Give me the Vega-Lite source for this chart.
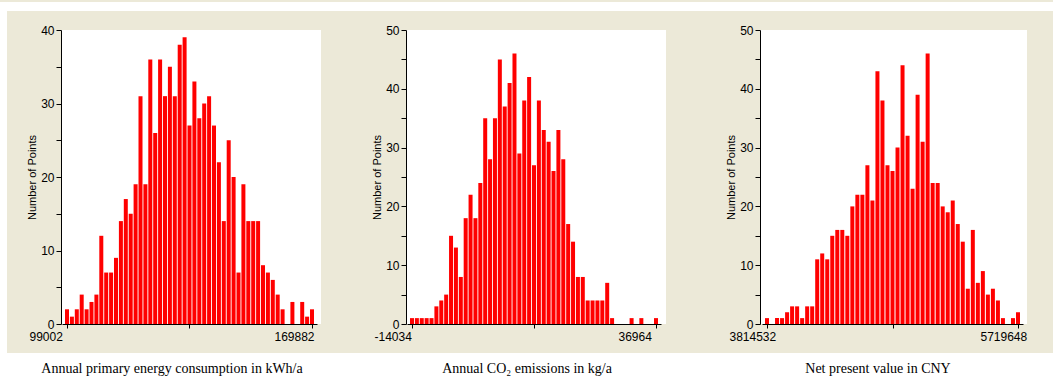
{
  "$schema": "https://vega.github.io/schema/vega-lite/v6.json",
  "padding": 0,
  "background": "#ECE9D8",
  "config": {
    "view": {"stroke": null},
    "axis": {
      "domainColor": "black", "tickColor": "black", "labelColor": "black", "titleColor": "black",
      "labelFont": "Liberation Sans", "titleFont": "Liberation Sans", "labelFontSize": 12,
      "grid": false, "tickSize": 5, "domainWidth": 1, "tickWidth": 1, "labelOverlap": false, "labelFlush": false
    },
    "axisY": {"labelPadding": 2, "titleFontSize": 11, "titleFontWeight": "normal", "titlePadding": 3},
    "axisX": {"labelAlign": "left", "labelOffset": -38, "labelPadding": 3, "tickSize": 4, "labelBaseline": "top"}
  },
  "datasets": {
    "energy": [
      {"value": 99002, "count": 2}, {"value": 100420, "count": 1}, {"value": 101837, "count": 2}, {"value": 103255, "count": 4},
      {"value": 104672, "count": 2}, {"value": 106090, "count": 3}, {"value": 107508, "count": 4}, {"value": 108925, "count": 12},
      {"value": 110343, "count": 7}, {"value": 111760, "count": 7}, {"value": 113178, "count": 9}, {"value": 114596, "count": 14},
      {"value": 116013, "count": 17}, {"value": 117431, "count": 15}, {"value": 118848, "count": 19}, {"value": 120266, "count": 31},
      {"value": 121684, "count": 19}, {"value": 123101, "count": 36}, {"value": 124519, "count": 26}, {"value": 125936, "count": 36},
      {"value": 127354, "count": 31}, {"value": 128772, "count": 35}, {"value": 130189, "count": 31}, {"value": 131607, "count": 38},
      {"value": 133024, "count": 39}, {"value": 134442, "count": 27}, {"value": 135860, "count": 33}, {"value": 137277, "count": 28},
      {"value": 138695, "count": 30}, {"value": 140112, "count": 31}, {"value": 141530, "count": 27}, {"value": 142948, "count": 22},
      {"value": 144365, "count": 14}, {"value": 145783, "count": 25}, {"value": 147200, "count": 20}, {"value": 148618, "count": 7},
      {"value": 150036, "count": 19}, {"value": 151453, "count": 14}, {"value": 152871, "count": 14}, {"value": 154288, "count": 14},
      {"value": 155706, "count": 8}, {"value": 157124, "count": 7}, {"value": 158541, "count": 6}, {"value": 159959, "count": 4},
      {"value": 161376, "count": 2}, {"value": 162794, "count": 0}, {"value": 164212, "count": 3}, {"value": 165629, "count": 0},
      {"value": 167047, "count": 3}, {"value": 168464, "count": 1}, {"value": 169882, "count": 2}
    ],
    "co2": [
      {"value": -14034, "count": 1}, {"value": -13014, "count": 1}, {"value": -11994, "count": 1}, {"value": -10974, "count": 1},
      {"value": -9954, "count": 1}, {"value": -8934, "count": 3}, {"value": -7914, "count": 4}, {"value": -6894, "count": 5},
      {"value": -5874, "count": 15}, {"value": -4854, "count": 13}, {"value": -3834, "count": 8}, {"value": -2814, "count": 18},
      {"value": -1794, "count": 22}, {"value": -775, "count": 18}, {"value": 245, "count": 24}, {"value": 1265, "count": 35},
      {"value": 2285, "count": 28}, {"value": 3305, "count": 35}, {"value": 4325, "count": 45}, {"value": 5345, "count": 37},
      {"value": 6365, "count": 41}, {"value": 7385, "count": 46}, {"value": 8405, "count": 29}, {"value": 9425, "count": 38},
      {"value": 10445, "count": 42}, {"value": 11465, "count": 27}, {"value": 12485, "count": 38}, {"value": 13505, "count": 33},
      {"value": 14525, "count": 31}, {"value": 15545, "count": 26}, {"value": 16565, "count": 33}, {"value": 17585, "count": 28},
      {"value": 18605, "count": 17}, {"value": 19625, "count": 14}, {"value": 20645, "count": 8}, {"value": 21665, "count": 8},
      {"value": 22685, "count": 4}, {"value": 23705, "count": 4}, {"value": 24724, "count": 4}, {"value": 25744, "count": 4},
      {"value": 26764, "count": 7}, {"value": 27784, "count": 1}, {"value": 28804, "count": 0}, {"value": 29824, "count": 0},
      {"value": 30844, "count": 0}, {"value": 31864, "count": 1}, {"value": 32884, "count": 0}, {"value": 33904, "count": 1},
      {"value": 34924, "count": 0}, {"value": 35944, "count": 0}, {"value": 36964, "count": 1}
    ],
    "npv": [
      {"value": 3814532, "count": 1}, {"value": 3852634, "count": 0}, {"value": 3890737, "count": 1}, {"value": 3928839, "count": 1},
      {"value": 3966941, "count": 2}, {"value": 4005044, "count": 3}, {"value": 4043146, "count": 3}, {"value": 4081248, "count": 1},
      {"value": 4119351, "count": 3}, {"value": 4157453, "count": 3}, {"value": 4195555, "count": 11}, {"value": 4233658, "count": 12},
      {"value": 4271760, "count": 11}, {"value": 4309862, "count": 15}, {"value": 4347965, "count": 16}, {"value": 4386067, "count": 16},
      {"value": 4424169, "count": 15}, {"value": 4462272, "count": 20}, {"value": 4500374, "count": 22}, {"value": 4538476, "count": 22},
      {"value": 4576578, "count": 27}, {"value": 4614681, "count": 21}, {"value": 4652783, "count": 43}, {"value": 4690885, "count": 38},
      {"value": 4728988, "count": 27}, {"value": 4767090, "count": 26}, {"value": 4805192, "count": 30}, {"value": 4843295, "count": 44},
      {"value": 4881397, "count": 32}, {"value": 4919499, "count": 23}, {"value": 4957602, "count": 39}, {"value": 4995704, "count": 31},
      {"value": 5033806, "count": 46}, {"value": 5071909, "count": 24}, {"value": 5110011, "count": 24}, {"value": 5148113, "count": 20},
      {"value": 5186216, "count": 19}, {"value": 5224318, "count": 21}, {"value": 5262420, "count": 17}, {"value": 5300522, "count": 14},
      {"value": 5338625, "count": 6}, {"value": 5376727, "count": 16}, {"value": 5414829, "count": 7}, {"value": 5452932, "count": 9},
      {"value": 5491034, "count": 5}, {"value": 5529136, "count": 6}, {"value": 5567239, "count": 4}, {"value": 5605341, "count": 1},
      {"value": 5643443, "count": 0}, {"value": 5681546, "count": 1}, {"value": 5719648, "count": 2}
    ]
  },
  "spacing": 0,
  "bounds": "flush",
  "hconcat": [
    {"width": 7, "height": 377, "view": {"fill": "white"}, "data": {"values": [{}]}, "mark": {"type": "text", "text": ""}},
    {
      "spacing": 0,
      "bounds": "full",
      "vconcat": [
        {"width": 1046, "height": 9, "view": {"fill": "white"}, "data": {"values": [{}]}, "mark": {"type": "text", "text": ""}},
        {"width": 1, "height": 12, "data": {"values": [{}]}, "mark": {"type": "text", "text": ""}},
        {
          "spacing": 0,
          "bounds": "flush",
          "hconcat": [
            {"width": 54, "height": 294, "data": {"values": [{}]}, "mark": {"type": "text", "text": ""}},
            {
              "width": 260, "height": 294, "view": {"fill": "white"},
              "data": {"name": "energy"},
              "mark": {"type": "bar", "size": 4, "color": "#FF0000"},
              "encoding": {
                "x": {"field": "value", "type": "quantitative",
                  "scale": {"domain": [99002, 169882], "range": [1, 256], "nice": false, "zero": false},
                  "axis": {"title": null, "values": [99002, 134442, 169882],
                    "labelExpr": "datum.value == 99002 || datum.value == 169882 ? '' + datum.value : ''"}},
                "y": {"field": "count", "type": "quantitative",
                  "scale": {"domain": [0, 40], "nice": false},
                  "axis": {"title": "Number of Points", "values": [0, 5, 10, 15, 20, 25, 30, 35, 40],
                    "labelExpr": "datum.value % 10 == 0 ? datum.label : ''"}}
              }
            },
            {"width": 85, "height": 294, "data": {"values": [{}]}, "mark": {"type": "text", "text": ""}},
            {
              "width": 260, "height": 294, "view": {"fill": "white"},
              "data": {"name": "co2"},
              "mark": {"type": "bar", "size": 4, "color": "#FF0000"},
              "encoding": {
                "x": {"field": "value", "type": "quantitative",
                  "scale": {"domain": [-14034, 36964], "range": [1, 255], "nice": false, "zero": false},
                  "axis": {"title": null, "values": [-14034, 11465, 36964],
                    "labelExpr": "datum.value == -14034 || datum.value == 36964 ? '' + datum.value : ''"}},
                "y": {"field": "count", "type": "quantitative",
                  "scale": {"domain": [0, 50], "nice": false},
                  "axis": {"title": "Number of Points", "values": [0, 5, 10, 15, 20, 25, 30, 35, 40, 45, 50],
                    "labelExpr": "datum.value % 10 == 0 ? datum.label : ''"}}
              }
            },
            {"width": 94, "height": 294, "data": {"values": [{}]}, "mark": {"type": "text", "text": ""}},
            {
              "width": 267, "height": 294, "view": {"fill": "white"},
              "data": {"name": "npv"},
              "mark": {"type": "bar", "size": 4, "color": "#FF0000"},
              "encoding": {
                "x": {"field": "value", "type": "quantitative",
                  "scale": {"domain": [3814532, 5719648], "range": [2, 263], "nice": false, "zero": false},
                  "axis": {"title": null, "values": [3814532, 4767090, 5719648],
                    "labelExpr": "datum.value == 3814532 || datum.value == 5719648 ? '' + datum.value : ''"}},
                "y": {"field": "count", "type": "quantitative",
                  "scale": {"domain": [0, 50], "nice": false},
                  "axis": {"title": "Number of Points", "values": [0, 5, 10, 15, 20, 25, 30, 35, 40, 45, 50],
                    "labelExpr": "datum.value % 10 == 0 ? datum.label : ''"}}
              }
            }
          ]
        },
        {"width": 1, "height": 6, "data": {"values": [{}]}, "mark": {"type": "text", "text": ""}},
        {
          "spacing": 0,
          "bounds": "flush",
          "hconcat": [
            {"width": 330, "height": 25, "view": {"fill": "white"},
              "data": {"values": [{"caption": "Annual primary energy consumption in kWh/a"}]},
              "mark": {"type": "text", "font": "Liberation Serif", "fontSize": 14, "color": "black", "baseline": "middle", "dy": 3},
              "encoding": {"text": {"field": "caption"}}},
            {"width": 380, "height": 25, "view": {"fill": "white"},
              "data": {"values": [{"caption": "Annual CO₂ emissions in kg/a"}]},
              "mark": {"type": "text", "font": "Liberation Serif", "fontSize": 14, "color": "black", "baseline": "middle", "dy": 3},
              "encoding": {"text": {"field": "caption"}}},
            {"width": 336, "height": 25, "view": {"fill": "white"},
              "data": {"values": [{"caption": "Net present value in CNY"}]},
              "mark": {"type": "text", "font": "Liberation Serif", "fontSize": 14, "color": "black", "baseline": "middle", "dy": 3, "dx": -7},
              "encoding": {"text": {"field": "caption"}}}
          ]
        }
      ]
    }
  ]
}
